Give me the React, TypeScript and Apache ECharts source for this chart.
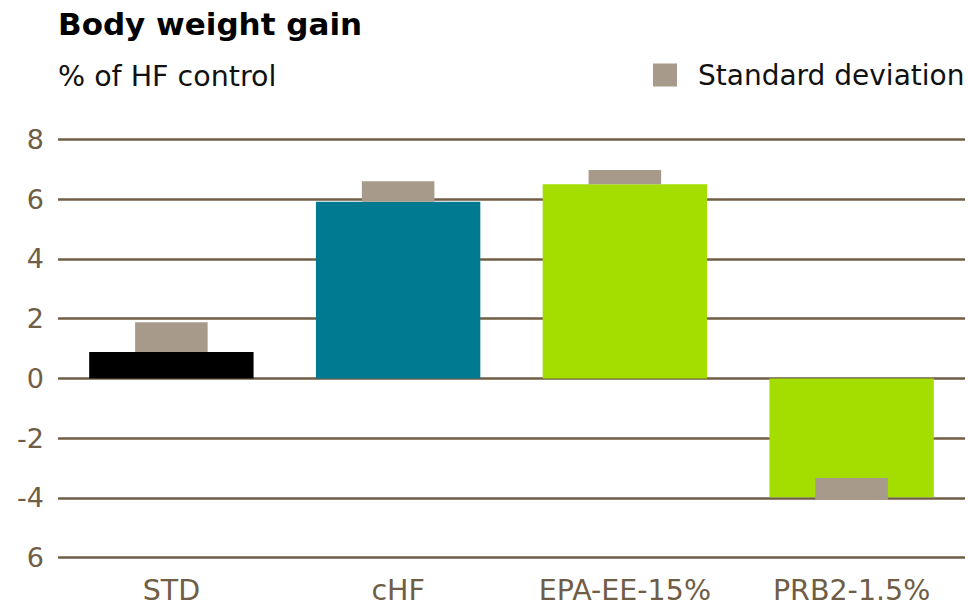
import React, { useEffect, useRef } from "react";
import * as echarts from "echarts";

const categories = ["STD", "cHF", "EPA-EE-15%", "PRB2-1.5%"];
const meanValues = [0.88, 5.91, 6.5, -3.98];
const barColors = ["#000000", "#007a91", "#a3de00", "#a3de00"];
const sdLow = [0.88, 5.91, 6.5, -4.07];
const sdHigh = [1.88, 6.6, 6.97, -3.33];
const yTicks = [-6, -4, -2, 0, 2, 4, 6, 8];
const yTickLabels = ["6", "-4", "-2", "0", "2", "4", "6", "8"];

const BROWN = "#705d46";
const FONT = "DejaVu Sans";

export default function App() {
  const ref = useRef<HTMLDivElement>(null);
  useEffect(() => {
    if (!ref.current) return;
    const chart = echarts.init(ref.current, undefined, { renderer: "svg" });
    chart.setOption({
      animation: false,
      backgroundColor: "#ffffff",
      title: [
        {
          text: "Body weight gain",
          left: 53,
          top: 3,
          textStyle: { fontFamily: FONT, fontSize: 31, fontWeight: "bold", color: "#000000" },
        },
        {
          text: "% of HF control",
          left: 53,
          top: 57,
          textStyle: { fontFamily: FONT, fontSize: 28.5, fontWeight: "normal", color: "#111111" },
        },
      ],
      legend: {
        left: 648,
        top: 56,
        icon: "rect",
        itemWidth: 24,
        itemHeight: 23,
        data: ["Standard deviation"],
        textStyle: { fontFamily: FONT, fontSize: 28, color: "#111111", padding: [0, 0, 0, 16] },
      },
      grid: { left: 58, right: 3, top: 139.3, bottom: 49.3, containLabel: false },
      xAxis: {
        type: "category",
        data: categories,
        axisLine: { show: false },
        axisTick: { show: false },
        axisLabel: { fontFamily: FONT, fontSize: 28.5, color: BROWN, margin: 18 },
      },
      yAxis: {
        type: "value",
        min: yTicks[0],
        max: yTicks[yTicks.length - 1],
        interval: 2,
        axisLine: { show: false },
        axisTick: { show: false },
        splitLine: { lineStyle: { color: BROWN, width: 2.5 } },
        axisLabel: {
          fontFamily: FONT,
          fontSize: 27,
          color: BROWN,
          margin: 14,
          padding: [0, 0, 8, 0],
          formatter: (v: number) => {
            const i = yTicks.indexOf(v);
            return i >= 0 ? yTickLabels[i] : "";
          },
        },
      },
      series: [
        {
          type: "bar",
          name: "Mean",
          barWidth: "72.5%",
          data: meanValues.map((v, i) => ({ value: v, itemStyle: { color: barColors[i] } })),
          z: 2,
        },
        {
          type: "custom",
          name: "Standard deviation",
          itemStyle: { color: "#a89a8a" },
          data: categories.map((c, i) => [i, sdLow[i], sdHigh[i]]),
          encode: { x: 0, y: [1, 2] },
          z: 3,
          renderItem: (params: any, api: any) => {
            const x = api.value(0);
            const lo = api.coord([x, api.value(1)]);
            const hi = api.coord([x, api.value(2)]);
            const band = api.size([1, 0])[0];
            const w = band * 0.32;
            return {
              type: "rect",
              shape: { x: lo[0] - w / 2, y: hi[1], width: w, height: lo[1] - hi[1] },
              style: { fill: "#a89a8a" },
            };
          },
        },
      ],
    });
    return () => chart.dispose();
  }, []);
  return <div ref={ref} style={{ width: 968, height: 607, position: "absolute", left: 0, top: 0 }} />;
}
